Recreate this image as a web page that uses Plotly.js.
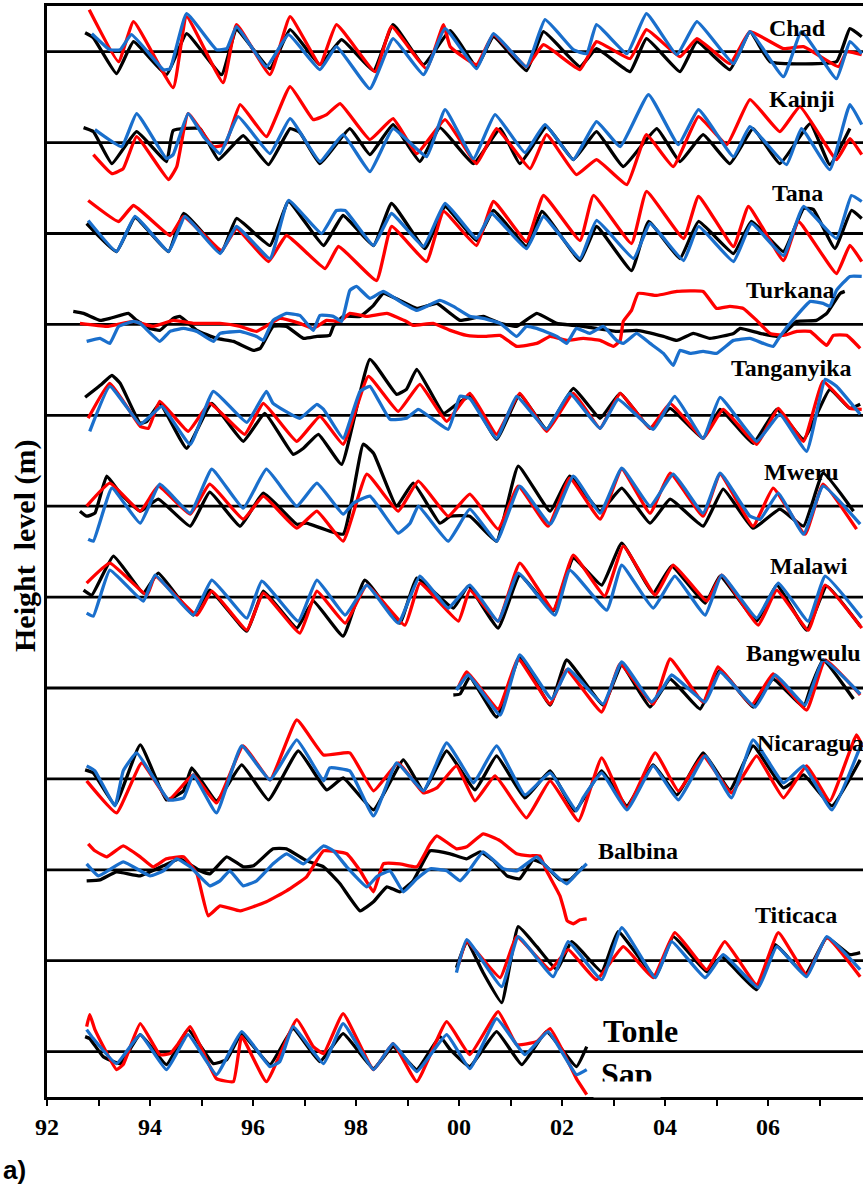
<!DOCTYPE html>
<html>
<head>
<meta charset="utf-8">
<script src="https://cdn.plot.ly/plotly-3.0.1.min.js"></script>
<style>
  html, body { margin: 0; padding: 0; background: #ffffff; }
  #chart { width: 863px; height: 1189px; }
</style>
</head>
<body>
<div id="chart"></div>
<script>
// Lake names, top to bottom
const lakes = ["Chad", "Kainji", "Tana", "Turkana", "Tanganyika", "Mweru", "Malawi",
               "Bangweulu", "Nicaragua", "Balbina", "Titicaca", "Tonle Sap"];

// Year tick labels (every second year labelled)
const tickYears = [92, 93, 94, 95, 96, 97, 98, 99, 100, 101, 102, 103, 104, 105, 106, 107];
const tickLabels = ["92", "", "94", "", "96", "", "98", "", "00", "", "02", "", "04", "", "06", ""];

// Height anomalies, [decimal year (92 = 1992), anomaly] for each lake and series
const chadBlack = [[92.74,19],[92.90,14],[93.35,-22],[93.68,10],[94.32,-23],[94.71,18],[95.39,-23],[95.68,22],[96.33,-17],[96.72,22],[97.30,-13],[97.72,12],[98.34,-19],[98.72,27],[99.31,-13],[99.83,21],[100.34,-15],[100.67,15],[101.31,-19],[101.64,20],[102.35,-15],[102.67,3],[103.32,-20],[103.64,13],[104.29,-20],[104.62,10],[105.26,-18],[105.65,20],[106.04,-10],[107.33,-10],[107.59,23],[107.82,15]];
const chadRed = [[92.82,42],[93.39,-10],[93.68,30],[94.45,-36],[94.71,35],[95.42,-31],[95.68,27],[96.33,-23],[96.72,35],[97.30,-13],[97.62,27],[98.37,-20],[98.69,25],[99.37,-17],[99.70,27],[99.83,5],[100.34,-13],[100.67,17],[101.31,-15],[101.64,7],[102.35,-18],[102.67,10],[103.32,-7],[103.64,22],[104.29,-5],[104.62,13],[105.26,-12],[105.65,20],[106.30,3],[106.69,5],[107.37,-15],[107.53,0],[107.82,-3]];
const chadBlue = [[92.87,18],[93.22,2],[93.42,2],[93.64,17],[94.26,-18],[94.39,-17],[94.71,38],[95.29,2],[95.49,3],[95.68,25],[96.26,-15],[96.69,17],[97.30,-18],[97.62,5],[98.27,-37],[98.72,13],[99.31,-23],[99.73,23],[100.34,-17],[100.67,18],[101.31,-15],[101.67,32],[102.22,2],[102.48,-2],[102.67,27],[103.26,-2],[103.64,38],[104.23,-3],[104.62,30],[105.33,-12],[105.65,20],[106.30,-25],[106.65,20],[107.33,-27],[107.59,10],[107.82,-2]];

const kainjiBlack = [[92.71,15],[92.90,11],[93.26,-21],[93.74,11],[94.32,-19],[94.45,12],[94.97,14],[95.33,-17],[95.81,7],[96.30,-22],[96.72,14],[96.91,10],[97.30,-21],[97.88,14],[98.27,-12],[98.72,18],[99.24,-19],[99.63,15],[100.28,-21],[100.80,14],[101.18,-21],[101.70,16],[102.22,-17],[102.67,11],[103.19,-24],[103.84,14],[104.29,-19],[104.74,8],[105.26,-21],[105.71,14],[106.23,-21],[106.82,19],[107.20,-22],[107.59,14]];
const kainjiRed = [[92.90,-12],[93.26,-31],[93.48,-26],[93.74,6],[94.36,-37],[94.52,-24],[94.74,29],[95.23,-4],[95.46,-2],[95.75,38],[96.26,6],[96.72,56],[97.17,23],[97.43,28],[97.69,39],[98.27,3],[98.72,24],[99.18,-11],[99.73,23],[100.34,-21],[100.73,14],[101.38,-26],[101.70,8],[102.28,-32],[102.67,-17],[103.26,-42],[103.64,8],[104.16,-24],[104.65,26],[105.20,-2],[105.65,43],[106.23,11],[106.62,36],[107.33,-17],[107.59,4],[107.82,-12]];
const kainjiBlue = [[92.93,13],[93.45,-4],[93.74,29],[94.32,-16],[94.45,-12],[94.74,29],[95.04,6],[95.36,-11],[95.71,26],[96.33,-11],[96.72,24],[97.30,-19],[97.75,8],[98.27,-29],[98.72,14],[99.37,-14],[99.73,33],[100.28,-16],[100.70,28],[101.28,-10],[101.67,18],[102.22,-17],[102.67,21],[103.13,-4],[103.68,48],[104.26,-2],[104.65,33],[105.33,-14],[105.65,16],[106.36,-22],[106.65,14],[107.20,-27],[107.59,38],[107.82,18]];

const tanaBlack = [[92.77,10],[93.35,-18],[93.71,16],[94.36,-18],[94.65,20],[95.39,-18],[95.68,15],[96.33,-12],[96.69,32],[97.37,-12],[97.75,18],[98.34,-12],[98.69,30],[99.34,-15],[99.73,27],[100.34,-7],[100.67,23],[101.31,-13],[101.61,22],[102.35,-27],[102.67,7],[103.35,-37],[103.68,12],[104.29,-25],[104.65,12],[105.33,-20],[105.68,12],[106.30,-18],[106.69,25],[106.88,24],[107.30,-15],[107.62,23],[107.82,15]];
const tanaRed = [[92.80,33],[93.39,12],[93.68,28],[94.39,-2],[94.65,17],[95.39,-17],[95.68,5],[96.30,-28],[96.65,-2],[97.40,-35],[97.66,-13],[98.40,-47],[98.69,7],[99.37,-28],[99.70,22],[100.34,-12],[100.67,32],[101.31,-8],[101.64,38],[102.35,-7],[102.61,38],[103.35,-10],[103.64,42],[104.36,-5],[104.65,37],[105.33,-13],[105.62,27],[106.30,-27],[106.59,12],[107.33,-40],[107.59,-12],[107.82,-28]];
const tanaBlue = [[92.80,13],[93.35,-18],[93.71,17],[94.36,-18],[94.68,17],[95.36,-20],[95.68,7],[96.33,-25],[96.69,33],[97.33,0],[97.62,23],[97.79,23],[98.34,-12],[98.69,20],[99.31,-13],[99.73,30],[100.34,-5],[100.63,20],[101.31,-15],[101.64,17],[102.35,-25],[102.67,13],[103.39,-25],[103.71,10],[104.36,-27],[104.65,7],[105.33,-28],[105.68,10],[106.30,-22],[106.69,27],[107.33,-5],[107.62,38],[107.82,32]];

const turkanaBlack = [[92.51,13],[92.71,11],[93.03,4],[93.22,6],[93.58,11],[93.74,4],[94.00,-4],[94.19,-6],[94.45,6],[94.58,8],[94.91,-6],[95.29,-14],[95.62,-17],[96.01,-26],[96.14,-24],[96.39,-2],[96.65,-2],[96.98,-14],[97.24,-12],[97.49,-11],[97.56,-2],[97.75,8],[98.08,8],[98.34,19],[98.53,31],[98.85,24],[99.18,16],[99.57,21],[99.83,11],[100.02,4],[100.47,8],[100.80,1],[101.12,-2],[101.51,11],[101.90,1],[102.41,-2],[103.06,-7],[103.45,-6],[103.97,-12],[104.23,-16],[104.55,-9],[104.87,-14],[105.33,-9],[105.46,-4],[105.85,-9],[106.23,-12],[106.56,3],[106.94,4],[107.14,11],[107.40,31],[107.49,33]];
const turkanaRed = [[92.64,1],[93.16,-2],[93.68,3],[94.06,-2],[94.45,4],[94.84,1],[95.36,1],[95.75,-2],[96.07,-7],[96.52,6],[96.91,1],[97.17,-4],[97.43,4],[97.69,3],[97.88,11],[98.21,8],[98.60,11],[98.98,3],[99.11,-1],[99.50,1],[99.83,-6],[100.15,-11],[100.47,-12],[100.80,-11],[101.12,-22],[101.51,-19],[101.77,-12],[102.09,-16],[102.41,-14],[102.74,-16],[103.00,-22],[103.13,-16],[103.19,3],[103.35,14],[103.48,31],[103.84,29],[104.23,33],[104.74,33],[105.00,16],[105.26,18],[105.52,16],[105.78,4],[106.04,-9],[106.30,-11],[106.56,-7],[106.82,-7],[107.14,-21],[107.27,-11],[107.53,-11],[107.79,-24]];
const turkanaBlue = [[92.77,-17],[93.03,-14],[93.22,-19],[93.39,-2],[93.68,3],[93.81,1],[94.19,-17],[94.39,-7],[94.65,-4],[94.91,-7],[95.23,-17],[95.36,-9],[95.75,-7],[96.07,-12],[96.20,-16],[96.39,4],[96.65,11],[96.91,9],[97.17,-6],[97.30,9],[97.56,8],[97.72,3],[97.88,34],[98.01,38],[98.27,26],[98.53,33],[98.85,23],[99.18,14],[99.63,24],[99.89,18],[100.21,8],[100.47,6],[100.80,1],[101.12,-12],[101.31,-2],[101.51,-4],[101.90,-12],[102.09,-19],[102.28,-4],[102.54,-9],[102.80,-2],[103.06,-16],[103.19,-19],[103.45,-9],[103.71,-19],[103.97,-29],[104.16,-41],[104.29,-26],[104.49,-29],[104.74,-27],[105.00,-29],[105.33,-16],[105.65,-14],[105.91,-19],[106.10,-22],[106.23,-12],[106.56,9],[106.82,23],[107.07,21],[107.20,18],[107.33,34],[107.59,48],[107.82,48]];

const tanganyikaBlack = [[92.74,18],[93.06,31],[93.26,40],[93.42,32],[93.81,-8],[93.94,-6],[94.19,12],[94.71,-33],[95.20,12],[95.81,-26],[96.23,2],[96.78,-39],[96.98,-33],[97.27,-19],[97.72,-49],[98.27,56],[98.79,21],[98.98,26],[99.18,46],[99.70,2],[99.95,11],[100.21,19],[100.73,-24],[101.18,21],[101.70,-14],[102.22,27],[102.74,-3],[103.13,22],[103.71,-13],[104.10,7],[104.74,-23],[105.07,6],[105.71,-28],[106.17,6],[106.69,-24],[107.20,26],[107.59,7],[107.79,11]];
const tanganyikaRed = [[92.80,-3],[93.22,32],[93.81,-11],[93.97,-13],[94.19,14],[94.74,-16],[95.16,12],[95.84,-19],[96.20,12],[96.85,-26],[97.30,-1],[97.75,-29],[98.24,39],[98.82,4],[99.24,31],[99.76,-6],[100.21,22],[100.73,-19],[101.18,22],[101.70,-16],[102.22,22],[102.74,-13],[103.13,22],[103.71,-13],[104.10,12],[104.74,-23],[105.13,6],[105.78,-29],[106.20,7],[106.69,-26],[107.07,34],[107.59,7],[107.82,6]];
const tanganyikaBlue = [[92.83,-16],[93.22,29],[93.81,-9],[93.94,-4],[94.23,9],[94.78,-29],[95.23,24],[95.88,-7],[96.26,24],[96.39,12],[96.91,-3],[97.24,11],[97.37,6],[97.75,-23],[98.08,24],[98.27,29],[98.66,-4],[98.98,-3],[99.21,6],[99.79,-14],[100.02,19],[100.21,17],[100.73,-23],[101.12,19],[101.70,-14],[102.15,22],[102.74,-13],[103.09,16],[103.77,-14],[104.19,19],[104.74,-23],[105.07,18],[105.78,-26],[106.23,1],[106.75,-36],[107.11,36],[107.33,29],[107.79,1]];

const mweruBlack = [[92.64,-5],[92.77,-10],[92.93,-7],[93.16,30],[93.42,13],[93.81,-5],[94.16,7],[94.78,-20],[95.16,14],[95.75,-20],[96.20,13],[96.85,-18],[97.04,-17],[97.75,-28],[98.14,62],[98.34,53],[98.79,0],[99.11,23],[99.63,-17],[99.83,-10],[100.21,-10],[100.73,-35],[101.15,40],[101.77,-5],[102.15,30],[102.74,-5],[103.16,18],[103.71,-17],[104.10,7],[104.74,-20],[105.13,17],[105.71,-22],[106.23,-3],[106.69,-20],[107.07,33],[107.66,-5]];
const mweruRed = [[92.77,0],[93.22,23],[93.81,-5],[94.16,20],[94.78,-8],[95.16,22],[95.81,-13],[96.20,10],[96.85,-22],[97.24,-5],[97.75,-35],[98.21,32],[98.82,-5],[99.21,25],[99.79,-10],[100.21,12],[100.76,-23],[101.15,20],[101.73,-20],[102.15,28],[102.74,-13],[103.16,37],[103.71,-7],[104.10,33],[104.74,-10],[105.07,32],[105.71,-20],[106.10,18],[106.72,-28],[107.07,22],[107.72,-23]];
const mweruBlue = [[92.80,-33],[92.90,-35],[93.26,18],[93.81,-17],[94.19,22],[94.78,-7],[95.20,37],[95.81,-2],[96.26,37],[96.85,0],[97.24,23],[97.75,-8],[97.95,3],[98.27,10],[98.82,-27],[99.05,-17],[99.21,0],[99.79,-35],[100.21,-3],[100.73,-35],[101.18,20],[101.77,-18],[102.22,30],[102.74,-7],[103.16,38],[103.71,0],[104.16,32],[104.74,-7],[105.07,33],[105.65,-10],[105.85,-13],[106.20,13],[106.69,-28],[107.07,20],[107.79,-18]];

const malawiBlack = [[92.71,7],[92.87,2],[93.29,41],[93.87,4],[94.16,24],[94.84,-18],[95.16,7],[95.88,-34],[96.20,6],[96.85,-31],[97.17,-4],[97.75,-39],[98.17,17],[98.85,-26],[99.18,19],[99.89,-11],[100.18,11],[100.76,-31],[101.18,22],[101.83,-14],[102.22,39],[102.77,12],[103.16,54],[103.77,4],[104.13,31],[104.78,-6],[105.07,21],[105.78,-24],[106.17,12],[106.75,-33],[107.14,11],[107.79,-29]];
const malawiRed = [[92.77,14],[93.22,34],[93.94,2],[94.10,21],[94.91,-18],[95.20,6],[95.88,-33],[96.20,4],[96.91,-36],[97.24,6],[97.79,-26],[98.21,12],[98.95,-28],[99.24,14],[99.99,-24],[100.21,7],[100.76,-24],[101.18,34],[101.83,-13],[102.22,42],[102.83,1],[103.19,51],[103.81,2],[104.16,32],[104.81,-4],[105.10,22],[105.81,-28],[106.17,7],[106.78,-33],[107.11,12],[107.82,-31]];
const malawiBlue = [[92.77,-16],[92.90,-19],[93.22,27],[93.87,-4],[94.10,22],[94.84,-18],[95.20,17],[95.88,-21],[96.17,16],[96.88,-24],[97.24,17],[97.79,-18],[98.21,12],[98.82,-26],[99.24,21],[99.79,-11],[100.21,12],[100.76,-24],[101.15,24],[101.86,-18],[102.15,27],[102.87,-13],[103.16,32],[103.77,-11],[104.19,21],[104.78,-18],[105.10,22],[105.78,-21],[106.20,14],[106.78,-24],[107.11,21],[107.82,-21]];

const bangweuluBlack = [[99.89,-7],[100.02,-6],[100.21,11],[100.73,-29],[101.18,31],[101.77,-17],[102.09,28],[102.80,-17],[103.16,23],[103.71,-19],[104.10,9],[104.68,-21],[105.07,18],[105.71,-19],[106.10,9],[106.69,-19],[106.82,-1],[107.07,28],[107.66,-11]];
const bangweuluRed = [[99.99,1],[100.15,16],[100.76,-21],[101.15,29],[101.77,-16],[102.09,18],[102.77,-24],[103.13,24],[103.77,-16],[104.10,29],[104.74,-14],[105.03,21],[105.68,-17],[106.10,14],[106.75,-22],[107.11,28],[107.79,-7]];
const bangweuluBlue = [[99.95,-2],[100.18,13],[100.80,-27],[101.18,33],[101.80,-11],[102.12,19],[102.80,-16],[103.16,26],[103.74,-14],[103.97,1],[104.13,13],[104.78,-14],[105.07,16],[105.75,-19],[106.14,13],[106.72,-17],[107.07,28],[107.79,-6]];

const nicaraguaBlack = [[92.74,9],[92.90,6],[93.32,-26],[93.81,34],[94.32,-21],[94.65,-12],[94.81,11],[95.29,-22],[95.78,14],[96.30,-21],[96.88,28],[97.43,-11],[97.75,1],[98.34,-31],[98.92,19],[99.31,-12],[99.76,28],[100.31,-11],[100.73,23],[101.28,-19],[101.77,8],[102.25,-32],[102.77,8],[103.26,-27],[103.77,14],[104.23,-16],[104.74,26],[105.26,-11],[105.71,33],[106.30,-9],[106.69,4],[107.24,-27],[107.79,19]];
const nicaraguaRed = [[92.77,-2],[93.35,-34],[93.84,16],[94.36,-21],[94.84,4],[95.29,-24],[95.81,33],[96.33,-1],[96.85,59],[97.37,24],[97.88,26],[98.34,-12],[98.82,16],[99.31,-14],[99.57,-9],[99.95,13],[100.31,-22],[100.70,3],[101.31,-39],[101.77,-2],[102.32,-42],[102.77,21],[103.26,-29],[103.81,26],[104.26,-12],[104.74,23],[105.29,-14],[105.78,23],[106.30,-19],[106.75,13],[107.20,-22],[107.72,44],[107.84,32]];
const nicaraguaBlue = [[92.77,13],[92.93,8],[93.32,-27],[93.48,8],[93.74,26],[94.36,-21],[94.65,-19],[94.84,4],[95.29,-34],[95.78,33],[96.33,-1],[96.85,39],[97.37,-2],[97.49,11],[97.88,8],[98.34,-37],[98.79,16],[99.31,-12],[99.76,36],[100.28,-4],[100.41,6],[100.73,33],[101.28,-16],[101.77,6],[102.28,-32],[102.41,-19],[102.77,6],[103.26,-31],[103.77,13],[104.26,-21],[104.78,23],[105.29,-19],[105.71,39],[106.30,-4],[106.69,13],[107.24,-31],[107.82,36]];

const balbinaBlack = [[92.77,-11],[93.03,-10],[93.35,-2],[93.81,-6],[94.26,4],[94.58,11],[94.97,-1],[95.16,-4],[95.49,13],[95.81,3],[96.01,4],[96.39,21],[96.65,21],[97.04,9],[97.37,3],[97.69,-14],[98.08,-41],[98.34,-32],[98.60,-17],[98.85,-22],[99.11,-11],[99.44,19],[99.83,16],[100.15,11],[100.41,18],[100.67,9],[100.93,-6],[101.18,-9],[101.44,10],[101.64,6],[101.96,-10],[102.15,-10],[102.41,3]];
const balbinaRed = [[92.80,26],[92.93,19],[93.16,13],[93.48,24],[93.81,13],[94.06,3],[94.32,11],[94.65,13],[94.91,-4],[95.13,-46],[95.36,-36],[95.75,-41],[96.26,-32],[96.65,-21],[97.04,-7],[97.37,19],[97.82,16],[98.08,-1],[98.34,-22],[98.53,6],[98.85,6],[99.18,3],[99.44,26],[99.57,34],[99.95,21],[100.15,23],[100.47,36],[100.80,29],[101.12,16],[101.38,14],[101.57,14],[101.70,-1],[101.96,-26],[102.04,-40],[102.10,-51],[102.22,-54],[102.35,-50],[102.48,-49]];
const balbinaBlue = [[92.77,6],[93.00,-6],[93.48,8],[94.00,-6],[94.26,-1],[94.52,11],[94.78,3],[95.16,-16],[95.36,-11],[95.55,-1],[95.81,-16],[96.07,-11],[96.39,6],[96.65,16],[96.98,6],[97.37,24],[97.56,19],[97.82,3],[98.21,-17],[98.40,-7],[98.66,-1],[98.92,-22],[99.18,-9],[99.44,1],[99.76,-1],[100.02,-11],[100.15,-4],[100.47,18],[100.86,1],[101.12,-1],[101.51,13],[101.70,3],[102.09,-14],[102.28,-4],[102.48,6]];

const titicacaBlack = [[99.95,-7],[100.15,19],[100.47,-12],[100.83,-42],[101.15,34],[101.51,14],[101.90,-9],[102.19,19],[102.77,-11],[103.09,29],[103.81,-16],[104.16,24],[104.81,-11],[105.10,4],[105.78,-29],[106.14,16],[106.72,-14],[107.14,23],[107.59,6],[107.79,8]];
const titicacaRed = [[99.99,-4],[100.15,19],[100.80,-17],[101.12,24],[101.77,-9],[102.12,11],[102.67,-19],[103.19,14],[103.77,-17],[104.19,28],[104.81,-9],[105.16,19],[105.78,-24],[106.20,28],[106.75,-14],[107.14,23],[107.79,-16]];
const titicacaBlue = [[99.95,-12],[100.15,21],[100.83,-26],[101.15,24],[101.83,-16],[102.12,19],[102.77,-19],[103.16,33],[103.81,-17],[104.13,19],[104.78,-17],[105.13,6],[105.81,-27],[106.17,14],[106.75,-16],[107.14,24],[107.79,-9]];

const tonleBlack = [[92.74,15],[92.83,13],[93.09,-5],[93.42,-12],[93.81,17],[94.32,-13],[94.74,22],[95.23,-12],[95.49,-8],[95.78,18],[96.33,-13],[96.78,23],[97.30,-10],[97.75,18],[98.34,-17],[98.72,5],[99.18,-18],[99.63,15],[99.83,2],[100.21,-15],[100.73,20],[101.22,-13],[101.70,20],[102.28,-15],[102.48,5]];
const tonleRed = [[92.77,25],[92.83,37],[92.93,22],[93.35,-18],[93.48,-13],[93.81,28],[94.19,-3],[94.39,-2],[94.55,8],[94.78,25],[95.29,-27],[95.62,-30],[95.78,15],[96.26,-30],[96.85,32],[97.17,5],[97.37,-2],[97.75,38],[98.34,-18],[98.72,8],[99.18,-30],[99.76,30],[100.21,-3],[100.76,40],[101.12,7],[101.51,10],[101.77,23],[102.28,-27],[102.48,-43]];
const tonleBlue = [[92.77,22],[92.90,13],[93.35,-12],[93.81,17],[94.32,-18],[94.74,17],[95.29,-23],[95.78,20],[96.33,-15],[96.52,-10],[96.78,25],[97.37,-12],[97.75,28],[98.34,-18],[98.72,8],[99.18,-20],[99.76,17],[100.21,-17],[100.73,33],[101.28,-3],[101.73,20],[102.28,-23],[102.48,-18]];

// Series per lake, in drawing order: black, red, blue
const lakeSeries = [
  [chadBlack, chadRed, chadBlue],
  [kainjiBlack, kainjiRed, kainjiBlue],
  [tanaBlack, tanaRed, tanaBlue],
  [turkanaBlack, turkanaRed, turkanaBlue],
  [tanganyikaBlack, tanganyikaRed, tanganyikaBlue],
  [mweruBlack, mweruRed, mweruBlue],
  [malawiBlack, malawiRed, malawiBlue],
  [bangweuluBlack, bangweuluRed, bangweuluBlue],
  [nicaraguaBlack, nicaraguaRed, nicaraguaBlue],
  [balbinaBlack, balbinaRed, balbinaBlue],
  [titicacaBlack, titicacaRed, titicacaBlue],
  [tonleBlack, tonleRed, tonleBlue]
];

const seriesColors = ["#000000", "#ff0000", "#1a6fcc"];

// Vertical spacing between the stacked lake panels (same units as anomalies)
const laneGap = 90.9;
const laneOffset = k => -k * laneGap;

const traces = [];
lakeSeries.forEach((group, k) => {
  group.forEach((pts, s) => {
    traces.push({
      type: "scatter",
      mode: "lines",
      x: pts.map(p => p[0]),
      y: pts.map(p => laneOffset(k) + p[1]),
      line: { color: seriesColors[s], width: 3.3, shape: "spline", smoothing: 0.35 },
      hoverinfo: "skip",
      showlegend: false
    });
  });
});

// Plot-area geometry in pixels, used to place the text labels
const M = { l: 47, r: 0, t: 6, b: 92 };
const FIG_W = 863, FIG_H = 1189;
const PW = FIG_W - M.l - M.r, PH = FIG_H - M.t - M.b;
const px = x => (x - M.l) / PW;
const py = y => (M.t + PH - y) / PH;

const serif = "Liberation Serif, Times New Roman, serif";

// Zero line for every lake
const shapes = lakes.map((_, k) => ({
  type: "line", xref: "paper", yref: "y", layer: "below",
  x0: 0, x1: 1, y0: laneOffset(k), y1: laneOffset(k),
  line: { color: "#000000", width: 2.8 }
}));

const labelPos = [
  [797, 28], [802, 99], [797, 193], [790, 290], [791, 368], [801, 472],
  [809, 566], [803, 653], [810, 743], [638, 851], [796, 915]
];
const annotations = labelPos.map((p, k) => ({
  text: lakes[k], xref: "paper", yref: "paper", x: px(p[0]), y: py(p[1]),
  xanchor: "center", yanchor: "middle", showarrow: false,
  font: { family: serif, size: 24, color: "#000000", weight: "bold" }
}));
annotations.push(
  { text: "Tonle", xref: "paper", yref: "paper", x: px(640), y: py(1031),
    xanchor: "center", yanchor: "middle", showarrow: false,
    font: { family: serif, size: 32, color: "#000000", weight: "bold" } },
  { text: "Sap", xref: "paper", yref: "paper", x: px(627), y: py(1074),
    xanchor: "center", yanchor: "middle", showarrow: false,
    font: { family: serif, size: 32, color: "#000000", weight: "bold" } },
  // white strip trimming the lower part of "Sap"
  { text: "\u00a0", xref: "paper", yref: "paper", x: px(627), y: py(1081),
    xanchor: "center", yanchor: "top", showarrow: false, width: 64, height: 13,
    bgcolor: "#ffffff", font: { size: 8 } },
  { text: "Height\u00a0 level (m)", xref: "paper", yref: "paper", x: px(25), y: py(546),
    xanchor: "center", yanchor: "middle", textangle: -90, showarrow: false,
    font: { family: serif, size: 30, color: "#000000", weight: "bold" } },
  { text: "a)", xref: "paper", yref: "paper", x: px(14), y: py(1170),
    xanchor: "center", yanchor: "middle", showarrow: false,
    font: { family: "Liberation Sans, Arial, sans-serif", size: 26, color: "#000000", weight: "bold" } }
);

const X0 = 92, PX_PER_YEAR = 51.5;

const layout = {
  width: FIG_W, height: FIG_H,
  margin: { l: M.l, r: M.r, t: M.t, b: M.b, pad: 0 },
  paper_bgcolor: "#ffffff", plot_bgcolor: "#ffffff",
  showlegend: false,
  xaxis: {
    range: [X0, X0 + PW / PX_PER_YEAR],
    tickmode: "array", tickvals: tickYears, ticktext: tickLabels,
    ticks: "outside", ticklen: 6, tickwidth: 2, tickcolor: "#000000",
    showline: true, linewidth: 3, linecolor: "#000000", mirror: true,
    showgrid: false, zeroline: false,
    tickfont: { family: serif, size: 24, color: "#000000", weight: "bold" }
  },
  yaxis: {
    range: [-(PH - (51.7 - M.t)), 51.7 - M.t],
    showline: true, linewidth: 3, linecolor: "#000000",
    ticks: "", showticklabels: false, showgrid: false, zeroline: false
  },
  shapes: shapes,
  annotations: annotations
};

Plotly.newPlot("chart", traces, layout, { staticPlot: true, displayModeBar: false });
</script>
</body>
</html>
